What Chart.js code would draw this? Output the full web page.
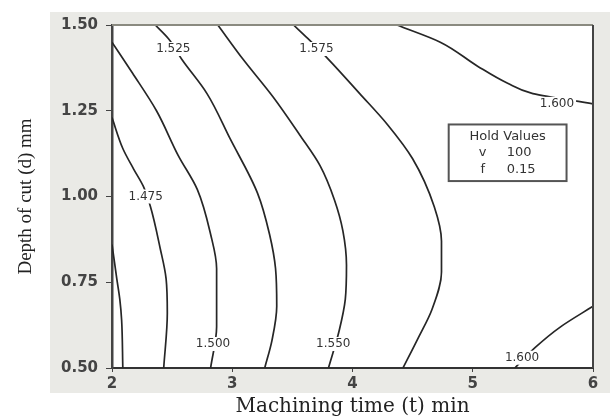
<!DOCTYPE html>
<html>
<head>
<meta charset="utf-8">
<script src="https://cdn.jsdelivr.net/npm/chart.js@4.4.0/dist/chart.umd.min.js"></script>
<style>
  html, body { margin: 0; padding: 0; background: #fff; }
  canvas { display: block; }
</style>
</head>
<body>
<canvas id="contour" width="610" height="419"></canvas>
<script>
// contour lines: [t, d] pairs, ordered by falling d
var c1450 = [[2.00, 0.86], [2.02, 0.81], [2.04, 0.76], [2.065, 0.70], [2.08, 0.64], [2.09, 0.50]];
var c1475 = [[2.00, 1.23], [2.09, 1.14], [2.18, 1.08], [2.26, 1.03], [2.32, 0.97], [2.40, 0.85], [2.45, 0.76], [2.46, 0.66], [2.43, 0.50]];
var c1500 = [[2.00, 1.45], [2.17, 1.36], [2.37, 1.25], [2.55, 1.12], [2.71, 1.02], [2.82, 0.89], [2.87, 0.79], [2.87, 0.62], [2.82, 0.50]];
var c1525 = [[2.36, 1.50], [2.47, 1.46], [2.58, 1.40], [2.79, 1.30], [2.98, 1.17], [3.21, 1.01], [3.31, 0.89], [3.36, 0.79], [3.37, 0.68], [3.33, 0.58], [3.27, 0.50]];
var c1550 = [[2.88, 1.50], [3.09, 1.40], [3.34, 1.29], [3.56, 1.18], [3.73, 1.09], [3.85, 0.99], [3.92, 0.90], [3.95, 0.80], [3.94, 0.70], [3.89, 0.61], [3.80, 0.50]];
var c1575 = [[3.51, 1.50], [3.63, 1.46], [3.80, 1.40], [4.06, 1.30], [4.29, 1.21], [4.50, 1.11], [4.68, 0.97], [4.74, 0.87], [4.74, 0.78], [4.66, 0.67], [4.55, 0.59], [4.42, 0.50]];
var c1600a = [[4.37, 1.50], [4.73, 1.45], [5.04, 1.38], [5.29, 1.33], [5.50, 1.30], [6.00, 1.27]];
var c1600b = [[6.00, 0.68], [5.73, 0.62], [5.52, 0.56], [5.35, 0.50]];

// contour labels: [text, t, d]
var contourLabels = [
    ["1.475", 2.28, 1.00],
    ["1.500", 2.84, 0.57],
    ["1.525", 2.51, 1.43],
    ["1.550", 3.84, 0.57],
    ["1.575", 3.70, 1.43],
    ["1.600", 5.70, 1.27],
    ["1.600", 5.41, 0.53]
];

var xTicks = [2, 3, 4, 5, 6];
var yTicks = [0.50, 0.75, 1.00, 1.25, 1.50];

var holdTitle = "Hold Values";
var holdNames = ["v", "f"];
var holdValues = ["100", "0.15"];

function toPoints(arr) {
    return arr.map(function(p) { return { x: p[0], y: p[1] }; });
}

function contourSet(arr) {
    return {
        data: toPoints(arr),
        indexAxis: "y",                 // smooth along d so the curves bend like contours
        cubicInterpolationMode: "monotone",
        showLine: true,
        borderColor: "#262626",
        borderWidth: 1.7,
        pointRadius: 0,
        fill: false
    };
}

// grey panel, white plot area, frame, labels and the hold box
var decorations = {
    id: "decorations",
    beforeDraw: function(chart) {
        var ctx = chart.ctx, a = chart.chartArea;
        ctx.save();
        ctx.fillStyle = "#eaeae6";
        ctx.fillRect(a.left - 62, a.top - 13, chart.width - (a.left - 62), a.bottom - a.top + 38);
        ctx.fillStyle = "#ffffff";
        ctx.fillRect(a.left, a.top, a.right - a.left, a.bottom - a.top);
        ctx.restore();
    },
    afterDatasetsDraw: function(chart) {
        var ctx = chart.ctx, a = chart.chartArea;
        var xs = chart.scales.x, ys = chart.scales.y;
        ctx.save();

        // top and right edges of the frame
        ctx.lineWidth = 2;
        ctx.strokeStyle = "#8a8a80";
        ctx.beginPath();
        ctx.moveTo(a.left, a.top);
        ctx.lineTo(a.right, a.top);
        ctx.stroke();
        ctx.strokeStyle = "#444";
        ctx.beginPath();
        ctx.moveTo(a.right, a.top);
        ctx.lineTo(a.right, a.bottom);
        ctx.stroke();

        // contour labels
        ctx.font = "12px 'DejaVu Sans'";
        ctx.textAlign = "center";
        ctx.textBaseline = "middle";
        contourLabels.forEach(function(l) {
            var px = xs.getPixelForValue(l[1]);
            var py = ys.getPixelForValue(l[2]);
            var w = ctx.measureText(l[0]).width;
            ctx.fillStyle = "#fff";
            ctx.fillRect(px - w / 2 - 2, py - 7, w + 4, 14);
            ctx.fillStyle = "#333";
            ctx.fillText(l[0], px, py);
        });

        // hold values box
        var bx0 = xs.getPixelForValue(4.80), bx1 = xs.getPixelForValue(5.78);
        var by0 = ys.getPixelForValue(1.21), by1 = ys.getPixelForValue(1.045);
        ctx.fillStyle = "#fff";
        ctx.fillRect(bx0, by0, bx1 - bx0, by1 - by0);
        ctx.lineWidth = 2;
        ctx.strokeStyle = "#555";
        ctx.strokeRect(bx0, by0, bx1 - bx0, by1 - by0);
        ctx.fillStyle = "#333";
        ctx.font = "13px 'DejaVu Sans'";
        var cx = (bx0 + bx1) / 2;
        ctx.fillText(holdTitle, cx, by0 + 12);
        holdNames.forEach(function(n, i) {
            var y = by0 + 28 + i * 17;
            ctx.textAlign = "center";
            ctx.fillText(n, bx0 + 34, y);
            ctx.textAlign = "left";
            ctx.fillText(holdValues[i], bx0 + 58, y);
        });
        ctx.restore();
    }
};

var chart = new Chart(document.getElementById("contour"), {
    type: "scatter",
    data: {
        datasets: [c1450, c1475, c1500, c1525, c1550, c1575, c1600a, c1600b].map(contourSet)
    },
    options: {
        responsive: false,
        animation: false,
        layout: { padding: { top: 25, right: 17, bottom: 0, left: 0 } },
        plugins: {
            legend: { display: false },
            tooltip: { enabled: false }
        },
        scales: {
            x: {
                type: "linear",
                min: 2,
                max: 6,
                afterBuildTicks: function(scale) {
                    scale.ticks = xTicks.map(function(v) { return { value: v }; });
                },
                afterFit: function(scale) { scale.height = 51; },
                ticks: {
                    color: "#444",
                    font: { family: "DejaVu Sans", size: 15, weight: "bold" },
                    padding: 3,
                    callback: function(v) { return String(v); }
                },
                grid: { drawOnChartArea: false, drawTicks: true, tickLength: 4, color: "#444" },
                border: { display: true, color: "#333", width: 2 },
                title: {
                    display: true,
                    text: "Machining time (t) min",
                    color: "#222",
                    font: { family: "DejaVu Serif", size: 20 },
                    padding: { top: 0, bottom: 0 }
                }
            },
            y: {
                type: "linear",
                min: 0.5,
                max: 1.5,
                afterBuildTicks: function(scale) {
                    scale.ticks = yTicks.map(function(v) { return { value: v }; });
                },
                afterFit: function(scale) { scale.width = 112; },
                ticks: {
                    color: "#444",
                    font: { family: "DejaVu Sans", size: 15, weight: "bold" },
                    padding: 8,
                    callback: function(v) { return Number(v).toFixed(2); }
                },
                grid: { drawOnChartArea: false, drawTicks: true, tickLength: 6, color: "#444" },
                border: { display: true, color: "#444", width: 2.5 },
                title: {
                    display: true,
                    text: "Depth of cut (d) mm",
                    color: "#222",
                    font: { family: "Liberation Serif", size: 19 },
                    padding: { top: 15, bottom: 0 }
                }
            }
        }
    },
    plugins: [decorations]
});
</script>
</body>
</html>
